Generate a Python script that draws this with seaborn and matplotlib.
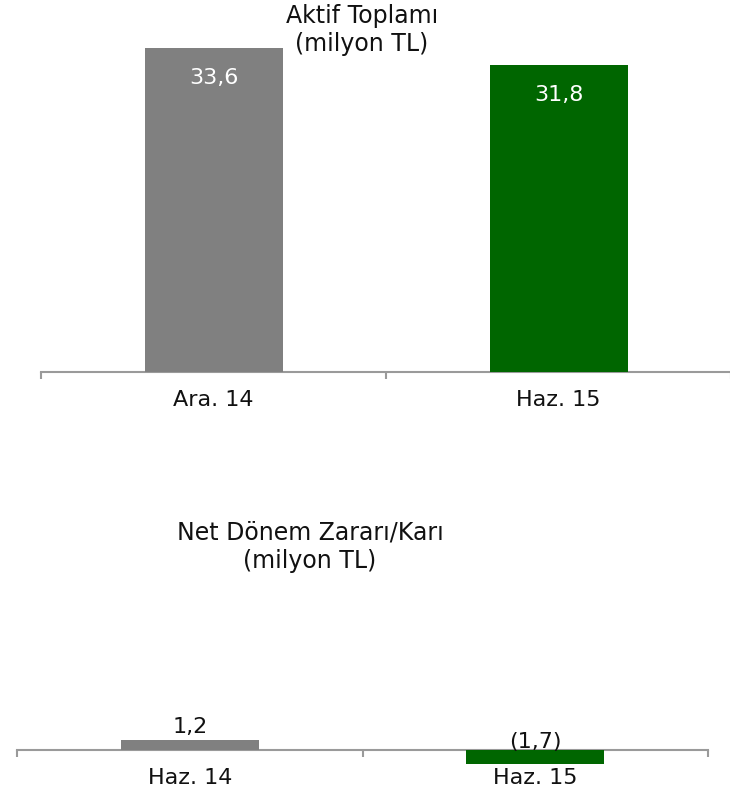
import matplotlib
matplotlib.use("Agg")
import matplotlib.pyplot as plt
import seaborn as sns
import pandas as pd
from matplotlib.ticker import FixedLocator

# top chart: total assets
asset_periods = ["Ara. 14", "Haz. 15"]
asset_values = [33.6, 31.8]
asset_labels = ["33,6", "31,8"]

# bottom chart: net period loss/profit
profit_periods = ["Haz. 14", "Haz. 15"]
profit_values = [1.2, -1.7]
profit_labels = ["1,2", "(1,7)"]

bar_colors = ["#808080", "#006600"]
axis_grey = "#9a9a9a"
FONT = 16

sns.set_style("white")
plt.rcParams["font.family"] = ["DejaVu Sans"]

W, H = 730, 792
fig = plt.figure(figsize=(W / 100, H / 100), dpi=100)


def px_axes(left, right, base, px_per_unit, ymin, ymax):
    bottom = base + (-ymin) * px_per_unit
    top = base - ymax * px_per_unit
    return fig.add_axes([left / W, 1 - bottom / H, (right - left) / W, (bottom - top) / H])


def style_axis(ax, cats):
    ax.set_xlim(-0.5, len(cats) - 0.5)
    for s in ["left", "right", "top"]:
        ax.spines[s].set_visible(False)
    ax.spines["bottom"].set_position(("data", 0))
    ax.spines["bottom"].set_color(axis_grey)
    ax.spines["bottom"].set_linewidth(1.5)
    ax.spines["bottom"].set_zorder(0.5)
    ax.set_yticks([])
    ax.set_ylabel("")
    ax.set_xlabel("")
    ax.xaxis.set_major_locator(FixedLocator([i - 0.5 for i in range(len(cats) + 1)]))
    ax.xaxis.set_minor_locator(FixedLocator(list(range(len(cats)))))
    ax.set_xticklabels([], minor=False)
    ax.set_xticklabels(cats, minor=True)
    ax.tick_params(axis="x", which="major", direction="out", length=5, width=1.5,
                   color=axis_grey, bottom=True)
    ax.tick_params(axis="x", which="minor", length=0, pad=13, labelsize=FONT,
                   labelcolor="#111111", bottom=True)


def draw(ax, cats, vals):
    df = pd.DataFrame({"period": cats, "value": vals})
    sns.barplot(data=df, x="period", y="value", hue="period", order=cats,
                palette=dict(zip(cats, bar_colors)), width=0.4, legend=False,
                saturation=1, linewidth=0, edgecolor="none", ax=ax)


# top chart
ax1 = px_axes(41, 731, 372, 9.65, 0, 35)
draw(ax1, asset_periods, asset_values)
ax1.set_ylim(0, 35)
style_axis(ax1, asset_periods)
for i, (v, lab) in enumerate(zip(asset_values, asset_labels)):
    ax1.annotate(lab, (i, v), xytext=(0, -30), textcoords="offset pixels",
                 ha="center", va="center", color="white", fontsize=FONT)
fig.text(362 / W, 1 - 30 / H, "Aktif Toplamı\n(milyon TL)", ha="center", va="center",
         fontsize=17, linespacing=1.25, color="#111111")

# bottom chart
ax2 = px_axes(17, 708, 750, 8.3, -2, 2)
draw(ax2, profit_periods, profit_values)
ax2.set_ylim(-2, 2)
style_axis(ax2, profit_periods)
for i, (v, lab) in enumerate(zip(profit_values, profit_labels)):
    y = max(v, 0)
    off = 13 if v > 0 else 8
    ax2.annotate(lab, (i, y), xytext=(0, off), textcoords="offset pixels",
                 ha="center", va="center", color="#111111", fontsize=FONT)
fig.text(310 / W, 1 - 547 / H, "Net Dönem Zararı/Karı\n(milyon TL)", ha="center",
         va="center", fontsize=17, linespacing=1.25, color="#111111")

fig.savefig("out.png", dpi=100)
